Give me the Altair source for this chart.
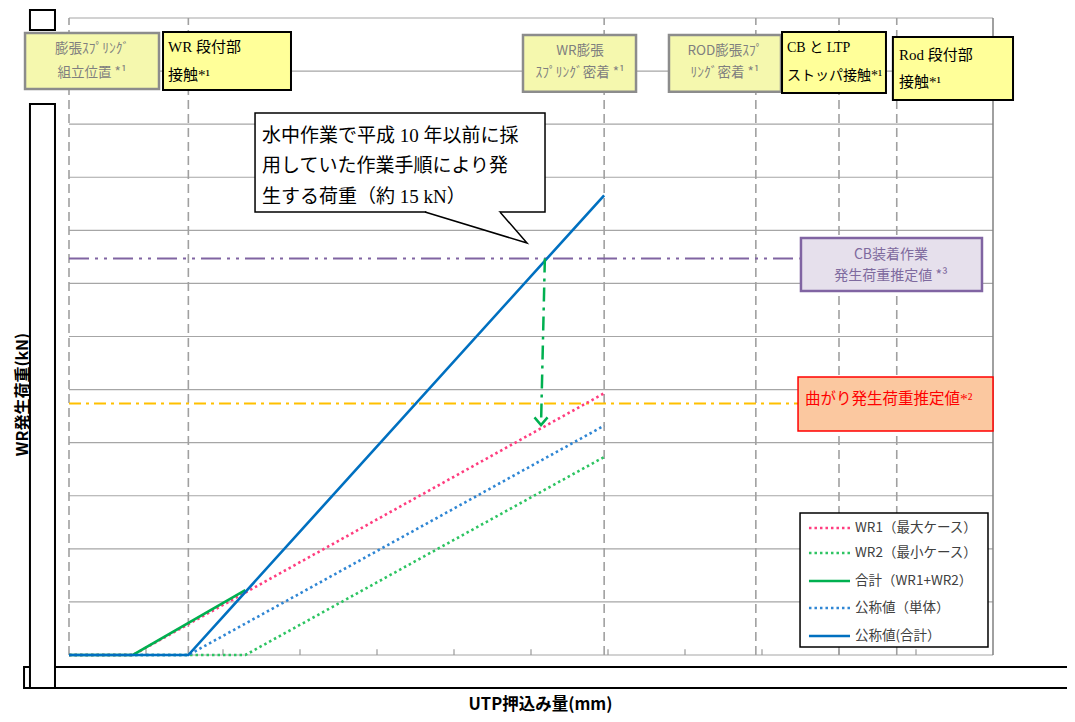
import altair as alt
import pandas as pd

JP = "Noto Sans CJK JP"
SERIF = "Liberation Serif, Noto Sans CJK JP"

# ---------------- data (x: UTP押込み量, y: WR発生荷重; grid units) ----------------
series = ["WR1（最大ケース）", "WR2（最小ケース）", "合計（WR1+WR2）", "公称値（単体）", "公称値(合計）"]
wr1_x = [0.0, 0.83, 6.95]
wr1_y = [0.0, 0.0, 4.93]
wr2_x = [0.0, 2.29, 6.95]
wr2_y = [0.0, 0.0, 3.73]
sum_x = [0.0, 0.83, 2.29]
sum_y = [0.0, 0.0, 1.22]
nom1_x = [0.0, 1.55, 6.95]
nom1_y = [0.0, 0.0, 4.32]
nomt_x = [0.0, 1.55, 6.95]
nomt_y = [0.0, 0.0, 8.66]

event_x = [0.0, 1.55, 6.95, 8.92, 10.0, 10.75]   # dashed event lines
grid_y = list(range(13))
tick_x = list(range(1, 12))
cb_load = 7.47      # CB装着作業 発生荷重推定値
bend_load = 4.74    # 曲がり発生荷重推定値
arrow_x = [6.18, 6.13]
arrow_y = [7.47, 4.33]

series_xy = {
    series[0]: (wr1_x, wr1_y),
    series[1]: (wr2_x, wr2_y),
    series[2]: (sum_x, sum_y),
    series[3]: (nom1_x, nom1_y),
    series[4]: (nomt_x, nomt_y),
}
styles = {
    series[0]: dict(color="#FF3D7F", dash=[2.5, 3]),
    series[1]: dict(color="#2DC462", dash=[2.5, 3]),
    series[2]: dict(color="#00B050", dash=None),
    series[3]: dict(color="#2F86D4", dash=[2.5, 3]),
    series[4]: dict(color="#0070C0", dash=None),
}

# ---------------- scales / axes ----------------
SX = alt.Scale(domain=[0, 12], nice=False, zero=False)
SY = alt.Scale(domain=[0, 12], nice=False, zero=False)
AX = alt.Axis(title="UTP押込み量(mm)", labels=False, ticks=False, domain=False, grid=False,
              titleX=471, titleY=49, titleFont=JP, titleFontSize=16.5, titleFontWeight="bold",
              titleColor="black", titleAlign="center", titleBaseline="middle")
AY = alt.Axis(title="WR発生荷重(kN)", labels=False, ticks=False, domain=False, grid=False,
              titleX=-47, titleY=376, titleAngle=270, titleFont=JP, titleFontSize=16,
              titleFontWeight="bold", titleColor="black", titleAlign="center",
              titleBaseline="middle")


def X(f):
    return alt.X(f, type="quantitative", scale=SX, axis=AX)


def Y(f):
    return alt.Y(f, type="quantitative", scale=SY, axis=AY)


def rules(df, **kw):
    enc = {}
    if "x" in df:
        enc["x"] = X("x")
    if "x2" in df:
        enc["x2"] = alt.X2("x2")
    if "y" in df:
        enc["y"] = Y("y")
    if "y2" in df:
        enc["y2"] = alt.Y2("y2")
    return alt.Chart(df).mark_rule(clip=False, **kw).encode(**enc)


def rect(df, fill, stroke, sw):
    return alt.Chart(df).mark_rect(fill=fill, stroke=stroke, strokeWidth=sw, clip=False).encode(
        x=X("x"), x2=alt.X2("x2"), y=Y("y"), y2=alt.Y2("y2"))


def text(df, font, size, color, align, weight="normal"):
    return alt.Chart(df).mark_text(font=font, fontSize=size, color=color, align=align,
                                   baseline="middle", fontWeight=weight, clip=False).encode(
        x=X("x"), y=Y("y"), text="t:N")


layers = []

# gridlines
layers.append(rules(pd.DataFrame({"y": grid_y, "x": [0] * 13, "x2": [12] * 13}),
                    color="#A6A6A6", strokeWidth=1.2))
# right border
layers.append(rules(pd.DataFrame({"x": [12], "y": [0], "y2": [12]}), color="#808080", strokeWidth=1.5))
# bottom ticks
layers.append(rules(pd.DataFrame({"x": tick_x, "y": [0] * len(tick_x), "y2": [0.11] * len(tick_x)}),
                    color="#999999", strokeWidth=1.2))
# event dashed lines
layers.append(rules(pd.DataFrame({"x": event_x, "y": [0] * len(event_x), "y2": [12] * len(event_x)}),
                    color="#A0A0A0", strokeWidth=1.6, strokeDash=[9, 5]))
# reference lines
layers.append(rules(pd.DataFrame({"x": [0], "x2": [9.49], "y": [cb_load]}),
                    color="#8064A2", strokeWidth=2, strokeDash=[20, 6, 3, 6, 3, 6]))
layers.append(rules(pd.DataFrame({"x": [0], "x2": [9.47], "y": [bend_load]}),
                    color="#FFC000", strokeWidth=2, strokeDash=[12, 5, 3, 5]))

# data lines
for i in [1, 3, 0, 2, 4]:
    s = series[i]
    xs, ys = series_xy[s]
    df = pd.DataFrame({"x": xs, "y": ys, "o": list(range(len(xs)))})
    kw = dict(color=styles[s]["color"], strokeWidth=2.6, clip=False)
    if styles[s]["dash"]:
        kw["strokeDash"] = styles[s]["dash"]
    layers.append(alt.Chart(df).mark_line(**kw).encode(x=X("x"), y=Y("y"), order="o:Q"))

# green arrow
adf = pd.DataFrame({"x": arrow_x, "y": arrow_y, "o": [0, 1]})
layers.append(alt.Chart(adf).mark_line(color="#00B050", strokeWidth=2.5, strokeDash=[14, 6, 3, 6],
                                       clip=False).encode(x=X("x"), y=Y("y"), order="o:Q"))
layers.append(alt.Chart(adf.iloc[[1]]).mark_point(shape="M -1 -1.2 L 0 0 L 1 -1.2", filled=False,
                                                  stroke="#00B050", strokeWidth=2.5, size=170,
                                                  opacity=1, clip=False).encode(x=X("x"), y=Y("y")))

# top event boxes
gray_boxes = pd.DataFrame({"x": [-0.571, 5.896, 7.792], "x2": [1.169, 7.364, 9.247],
                           "y": [10.663, 10.61, 10.61], "y2": [11.717, 11.68, 11.68]})
yel_boxes = pd.DataFrame({"x": [1.221, 9.26, 10.70], "x2": [2.883, 10.61, 12.26],
                          "y": [10.644, 10.587, 10.455], "y2": [11.736, 11.736, 11.64]})
layers.append(rect(gray_boxes, "#F5F8AE", "#8C8C8C", 2.5))
layers.append(rect(yel_boxes, "#FFFF99", "#000000", 2))
layers.append(text(pd.DataFrame({
    "x": [0.299, 0.299, 6.636, 6.636, 8.519, 8.519],
    "y": [11.416, 10.964, 11.378, 10.964, 11.378, 10.964],
    "t": ["膨張ｽﾌﾟﾘﾝｸﾞ", "組立位置 *¹", "WR膨張", "ｽﾌﾟﾘﾝｸﾞ密着 *¹", "ROD膨張ｽﾌﾟ", "ﾘﾝｸﾞ密着 *¹"]}),
    JP, 13.5, "#7F7F7F", "center"))
layers.append(text(pd.DataFrame({
    "x": [1.286, 1.286, 10.779, 10.779],
    "y": [11.454, 10.926, 11.303, 10.795],
    "t": ["WR 段付部", "接触*¹", "Rod 段付部", "接触*¹"]}), SERIF, 15, "#000000", "left"))
layers.append(text(pd.DataFrame({
    "x": [9.325, 9.325], "y": [11.435, 10.907],
    "t": ["CB と LTP", "ストッパ接触*¹"]}), SERIF, 14, "#000000", "left"))

# callout
layers.append(rect(pd.DataFrame({"x": [2.416], "x2": [6.182], "y": [8.345], "y2": [10.21]}),
                   "#FFFFFF", "#000000", 1.5))
layers.append(alt.Chart(pd.DataFrame({"x": [4.623, 5.597, 5.948], "y": [8.345, 8.345, 7.761],
                                      "y2": [8.345, 7.916, 7.761]}))
              .mark_area(color="#FFFFFF", clip=False).encode(x=X("x"), y=Y("y"), y2=alt.Y2("y2")))
layers.append(rules(pd.DataFrame({"x": [4.64], "x2": [5.58], "y": [8.345]}), color="#FFFFFF", strokeWidth=3))
layers.append(alt.Chart(pd.DataFrame({"x": [4.623, 5.948, 5.597], "y": [8.345, 7.761, 8.345], "o": [0, 1, 2]}))
              .mark_line(color="#000000", strokeWidth=1.5, clip=False).encode(x=X("x"), y=Y("y"), order="o:Q"))
layers.append(text(pd.DataFrame({
    "x": [2.506] * 3, "y": [9.777, 9.212, 8.628],
    "t": ["水中作業で平成 10 年以前に採", "用していた作業手順により発", "生する荷重（約 15 kN）"]}),
    SERIF, 19, "#000000", "left"))

# CB estimate box
layers.append(rect(pd.DataFrame({"x": [9.506], "x2": [11.857], "y": [6.857], "y2": [7.856]}),
                   "#E6E0EC", "#8064A2", 2.5))
layers.append(text(pd.DataFrame({"x": [10.675, 10.675], "y": [7.535, 7.140],
                                 "t": ["CB装着作業", "発生荷重推定値 *³"]}), JP, 14, "#7E6A9E", "center"))
# bending estimate box
layers.append(rect(pd.DataFrame({"x": [9.468], "x2": [12.0], "y": [4.22], "y2": [5.237]}),
                   "#FBC8A0", "#FF0000", 1.5))
layers.append(text(pd.DataFrame({"x": [9.56], "y": [4.82], "t": ["曲がり発生荷重推定値*²"]}),
                   SERIF, 15.5, "#FF0000", "left"))

# legend
layers.append(rect(pd.DataFrame({"x": [9.494], "x2": [11.935], "y": [0.151], "y2": [2.675]}),
                   "#FFFFFF", "#000000", 1.5))
leg_y = [2.392, 1.922, 1.394, 0.885, 0.358]
for i, s in enumerate(series):
    kw = dict(color=styles[s]["color"], strokeWidth=2.6)
    if styles[s]["dash"]:
        kw["strokeDash"] = styles[s]["dash"]
    layers.append(rules(pd.DataFrame({"x": [9.61], "x2": [10.143], "y": [leg_y[i]]}), **kw))
layers.append(text(pd.DataFrame({"x": [10.208] * 5, "y": leg_y, "t": series}), JP, 13.5, "#404040", "left"))

# masking shapes of the original document
layers.append(rect(pd.DataFrame({"x": [-0.584], "x2": [13.3], "y": [-0.622], "y2": [-0.226]}),
                   "#FFFFFF", "#000000", 2))
layers.append(rect(pd.DataFrame({"x": [-0.507, -0.507], "x2": [-0.182, -0.182],
                                 "y": [-0.622, 11.774], "y2": [10.38, 12.15]}),
                   "#FFFFFF", "#000000", 2))

chart = alt.layer(*layers).properties(
    width=924, height=637,
    autosize=alt.AutoSizeParams(type="none"),
    padding={"left": 61, "top": 10, "right": 74, "bottom": 59},
).configure_view(stroke=None)

chart.save("out.html", embed_options={"renderer": "svg", "actions": False})
